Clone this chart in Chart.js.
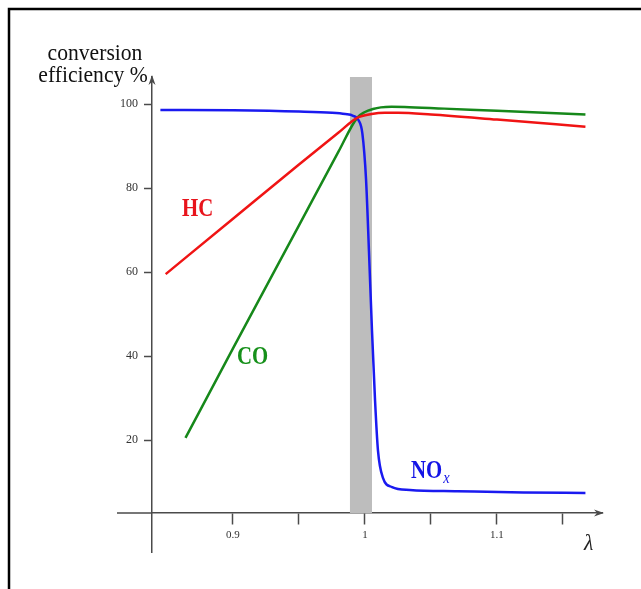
<!DOCTYPE html>
<html>
<head>
<meta charset="utf-8">
<script src="https://cdn.jsdelivr.net/npm/chart.js@4.4.1/dist/chart.umd.min.js"></script>
<style>
  html, body { margin: 0; padding: 0; background: #fff; overflow: hidden; }
</style>
</head>
<body>
<canvas id="catChart" width="641" height="589"></canvas>
<script>
// Three-way catalyst conversion efficiency vs. air ratio lambda
const lambdaHC = [0.849, 0.90, 0.95, 0.98, 0.994, 1.005, 1.015, 1.025, 1.05, 1.10, 1.167];
const hcValues = [59.5, 72.7, 85.6, 93.2, 96.7, 97.6, 97.9, 97.9, 97.5, 96.3, 94.6];

const lambdaCO = [0.864, 0.90, 0.95, 0.98, 0.994, 1.000, 1.006, 1.012, 1.020, 1.030, 1.06, 1.10, 1.167];
const coValues = [20.5, 41.8, 71.1, 88.7, 96.7, 98.1, 98.8, 99.2, 99.35, 99.3, 98.9, 98.4, 97.5];

const lambdaNOx = [0.845, 0.90, 0.95, 0.975, 0.985, 0.991, 0.995, 0.998, 1.0008, 1.003, 1.0053, 1.0076, 1.0098, 1.0136, 1.0205, 1.034, 1.07, 1.12, 1.167];
const noxValues = [98.6, 98.5, 98.2, 97.9, 97.6, 97.2, 96.2, 93.0, 82.0, 65.0, 46.0, 29.5, 17.6, 11.0, 8.8, 8.1, 7.8, 7.5, 7.4];

const lambdaTicks = [0.9, 0.95, 1.0, 1.05, 1.1, 1.15];
const lambdaTickLabels = ['0.9', '', '1', '', '1.1', ''];
const efficiencyTicks = [20, 40, 60, 80, 100];

// lambda window where the catalyst works best
const windowRange = [0.9886, 1.0053];

const toPoints = (xs, ys) => xs.map((x, i) => ({ x: x, y: ys[i] }));

const axisColor = '#4a4a4a';
const serif = 'Liberation Serif, Times New Roman, serif';
const xAxisAt = 2.62; // efficiency value where the lambda axis crosses

function squeezedText(ctx, str, x, y, font, color, sx, align) {
  ctx.save();
  ctx.font = font;
  ctx.fillStyle = color;
  ctx.textBaseline = 'alphabetic';
  ctx.textAlign = align || 'left';
  ctx.translate(x, y);
  ctx.scale(sx, 1);
  ctx.fillText(str, 0, 0);
  const w = ctx.measureText(str).width * sx;
  ctx.restore();
  return w;
}

const decorPlugin = {
  id: 'decor',
  beforeDraw(chart) {
    const ctx = chart.ctx;
    ctx.save();
    ctx.strokeStyle = '#000';
    ctx.lineWidth = 2.5;
    ctx.strokeRect(9, 9, 1000, 1000);
    ctx.restore();
  },
  beforeDatasetsDraw(chart) {
    const { ctx, scales: { x, y } } = chart;
    const x0 = x.getPixelForValue(windowRange[0]);
    const x1 = x.getPixelForValue(windowRange[1]);
    const yb = y.getPixelForValue(xAxisAt);
    ctx.save();
    ctx.fillStyle = '#bdbdbd';
    ctx.fillRect(x0, chart.chartArea.top, x1 - x0, yb - chart.chartArea.top);
    ctx.restore();
  },
  afterDraw(chart) {
    const { ctx, chartArea, scales: { x, y } } = chart;
    const ax = chartArea.left;
    const ay = y.getPixelForValue(xAxisAt);

    ctx.save();
    // lambda axis runs a little past the efficiency axis on the left
    ctx.strokeStyle = axisColor;
    ctx.lineWidth = 1.5;
    ctx.beginPath();
    ctx.moveTo(ax - 35, ay);
    ctx.lineTo(ax, ay);
    ctx.stroke();

    // arrow heads on both axes
    ctx.fillStyle = axisColor;
    ctx.beginPath();
    ctx.moveTo(chartArea.right + 2, ay);
    ctx.lineTo(chartArea.right - 8, ay - 3.5);
    ctx.lineTo(chartArea.right - 5, ay);
    ctx.lineTo(chartArea.right - 8, ay + 3.5);
    ctx.closePath();
    ctx.fill();
    ctx.beginPath();
    ctx.moveTo(ax, chartArea.top - 2);
    ctx.lineTo(ax - 3.5, chartArea.top + 8);
    ctx.lineTo(ax, chartArea.top + 5);
    ctx.lineTo(ax + 3.5, chartArea.top + 8);
    ctx.closePath();
    ctx.fill();
    ctx.restore();

    // axis titles
    squeezedText(ctx, 'conversion', 95, 60, '24px ' + serif, '#111', 0.9, 'center');
    squeezedText(ctx, 'efficiency %', 93, 82, '24px ' + serif, '#111', 0.9, 'center');
    squeezedText(ctx, 'λ', x.getPixelForValue(1.1659), y.getPixelForValue(-6.2),
      'italic 24px ' + serif, '#222', 0.9);

    // curve names
    squeezedText(ctx, 'HC', x.getPixelForValue(0.8614), y.getPixelForValue(73.3),
      'bold 26px ' + serif, '#e8141c', 0.8);
    squeezedText(ctx, 'CO', x.getPixelForValue(0.903), y.getPixelForValue(38.1),
      'bold 26px ' + serif, '#16901a', 0.8);
    const nx = x.getPixelForValue(1.0348);
    const ny = y.getPixelForValue(11.0);
    const w = squeezedText(ctx, 'NO', nx, ny, 'bold 26px ' + serif, '#1414e6', 0.8);
    squeezedText(ctx, 'x', nx + w + 1, ny + 5, 'italic 17px ' + serif, '#1414e6', 0.85);
  }
};

const lineStyle = { pointRadius: 0, borderWidth: 2.5, cubicInterpolationMode: 'monotone', fill: false };

new Chart(document.getElementById('catChart'), {
  type: 'line',
  data: {
    datasets: [
      Object.assign({ label: 'HC', data: toPoints(lambdaHC, hcValues), borderColor: '#f01414' }, lineStyle),
      Object.assign({ label: 'NOx', data: toPoints(lambdaNOx, noxValues), borderColor: '#1a1af0' }, lineStyle),
      Object.assign({ label: 'CO', data: toPoints(lambdaCO, coValues), borderColor: '#16881a' }, lineStyle)
    ]
  },
  options: {
    responsive: false,
    devicePixelRatio: 1,
    animation: false,
    layout: { padding: { left: 112, right: 39, top: 77, bottom: 37 } },
    plugins: { legend: { display: false }, tooltip: { enabled: false } },
    scales: {
      x: {
        type: 'linear',
        min: 0.83864,
        max: 1.17955,
        position: { y: xAxisAt },
        afterBuildTicks: s => { s.ticks = lambdaTicks.map(v => ({ value: v })); },
        ticks: {
          callback: (v, i) => lambdaTickLabels[i],
          font: { family: serif, size: 11 },
          color: '#333',
          padding: 5,
          maxRotation: 0
        },
        grid: { drawOnChartArea: false, drawTicks: true, tickLength: 11, tickWidth: 1.5, tickColor: axisColor },
        border: { display: true, color: axisColor, width: 1.5 }
      },
      y: {
        type: 'linear',
        min: -6.667,
        max: 106.43,
        position: 'left',
        afterFit: s => { s.width = 40; },
        afterBuildTicks: s => { s.ticks = efficiencyTicks.map(v => ({ value: v })); },
        ticks: {
          font: { family: serif, size: 12 },
          color: '#333',
          padding: 6
        },
        grid: { drawOnChartArea: false, drawTicks: true, tickLength: 8, tickWidth: 1.5, tickColor: axisColor },
        border: { display: true, color: axisColor, width: 1.5 }
      }
    }
  },
  plugins: [decorPlugin]
});
</script>
</body>
</html>
